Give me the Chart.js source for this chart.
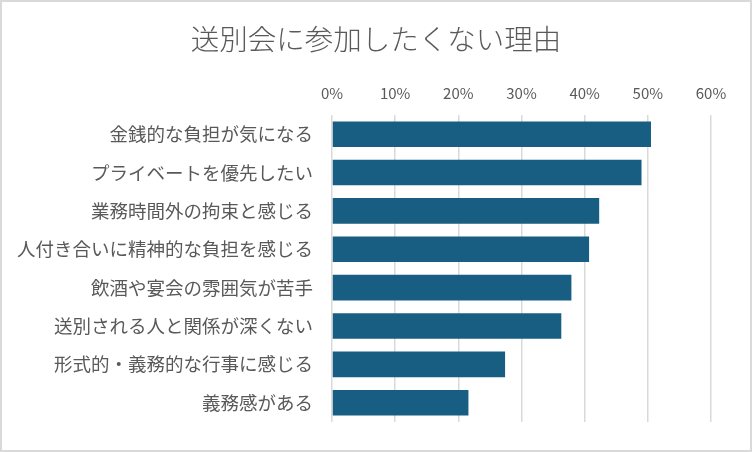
<!DOCTYPE html>
<html>
<head>
<meta charset="utf-8">
<script src="https://cdn.jsdelivr.net/npm/chart.js@4/dist/chart.umd.min.js"></script>
<style>
  html, body { margin: 0; padding: 0; background: #fff; }
  #wrap { width: 752px; height: 452px; position: relative; }
</style>
</head>
<body>
<div id="wrap"><canvas id="c" width="752" height="452"></canvas></div>
<script>
const chartTitle = '送別会に参加したくない理由';
const categories = [
  '金銭的な負担が気になる',
  'プライベートを優先したい',
  '業務時間外の拘束と感じる',
  '人付き合いに精神的な負担を感じる',
  '飲酒や宴会の雰囲気が苦手',
  '送別される人と関係が深くない',
  '形式的・義務的な行事に感じる',
  '義務感がある'
];
const values = [50.5, 49.0, 42.3, 40.7, 37.9, 36.3, 27.4, 21.6];
const axisMax = 60;
const axisStep = 10;

const FONT = "'Noto Sans CJK JP', 'Noto Sans', sans-serif";
const GREY = '#595959';

const frame = {
  id: 'frame',
  beforeDraw(chart) {
    const ctx = chart.ctx;
    ctx.save();
    ctx.fillStyle = '#fff';
    ctx.fillRect(0, 0, chart.width, chart.height);
    ctx.strokeStyle = '#d9d9d9';
    ctx.lineWidth = 2;
    ctx.strokeRect(1, 1, chart.width - 2, chart.height - 2);
    ctx.restore();
  }
};

const TITLE_SIZE = 28.5;
const TITLE_PAD_TOP = 22;
const TITLE_PAD_BOTTOM = 8;

new Chart(document.getElementById('c'), {
  type: 'bar',
  data: {
    labels: categories,
    datasets: [{
      data: values,
      backgroundColor: '#175e82',
      borderWidth: 0,
      categoryPercentage: 1,
      barPercentage: 0.667
    }]
  },
  options: {
    indexAxis: 'y',
    responsive: false,
    animation: false,
    devicePixelRatio: 1,
    layout: { padding: { left: 0, right: 0, top: 0, bottom: 25 } },
    plugins: {
      legend: { display: false },
      tooltip: { enabled: false },
      title: {
        display: true,
        text: chartTitle,
        color: GREY,
        font: { family: FONT, size: TITLE_SIZE, weight: '300' },
        padding: { top: TITLE_PAD_TOP, bottom: TITLE_PAD_BOTTOM }
      }
    },
    scales: {
      x: {
        position: 'top',
        min: 0,
        max: axisMax,
        border: { display: false },
        grid: { color: '#d9d9d9', lineWidth: 1.5, drawTicks: false },
        ticks: {
          stepSize: axisStep,
          color: GREY,
          padding: 13,
          font: { family: FONT, size: 15 },
          callback: v => v + '%'
        },
        afterFit(scale) { scale.height = 115 - TITLE_PAD_TOP - TITLE_SIZE * 1.2 - TITLE_PAD_BOTTOM; }
      },
      y: {
        border: { display: false },
        grid: { display: false, drawTicks: false },
        ticks: {
          color: GREY,
          padding: 19,
          font: { family: FONT, size: 18.5 }
        },
        afterFit(scale) { scale.width = 332; }
      },
      yRight: {
        axis: 'y',
        type: 'category',
        position: 'right',
        display: true,
        border: { display: false },
        grid: { display: false, drawTicks: false },
        ticks: { display: false },
        afterFit(scale) { scale.width = 41; }
      }
    }
  },
  plugins: [frame]
});
</script>
</body>
</html>
